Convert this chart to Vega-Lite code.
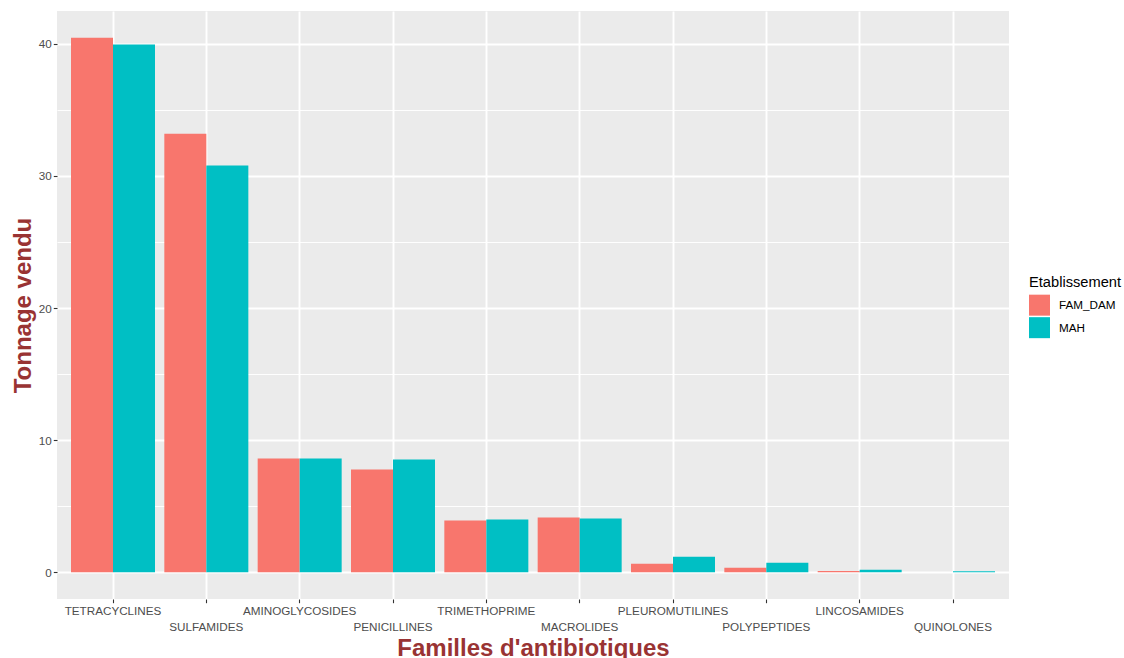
{
  "$schema": "https://vega.github.io/schema/vega-lite/v6.json",
  "autosize": {"type": "none"},
  "padding": {"left": 57, "top": 11, "right": 115, "bottom": 59},
  "width": 952,
  "height": 588,
  "background": "white",
  "data": {
    "values": [
      {"famille": "TETRACYCLINES", "etab": "FAM_DAM", "tonnage": 40.46},
      {"famille": "TETRACYCLINES", "etab": "MAH", "tonnage": 39.95},
      {"famille": "SULFAMIDES", "etab": "FAM_DAM", "tonnage": 33.2},
      {"famille": "SULFAMIDES", "etab": "MAH", "tonnage": 30.79},
      {"famille": "AMINOGLYCOSIDES", "etab": "FAM_DAM", "tonnage": 8.61},
      {"famille": "AMINOGLYCOSIDES", "etab": "MAH", "tonnage": 8.61},
      {"famille": "PENICILLINES", "etab": "FAM_DAM", "tonnage": 7.77},
      {"famille": "PENICILLINES", "etab": "MAH", "tonnage": 8.53},
      {"famille": "TRIMETHOPRIME", "etab": "FAM_DAM", "tonnage": 3.91},
      {"famille": "TRIMETHOPRIME", "etab": "MAH", "tonnage": 3.99},
      {"famille": "MACROLIDES", "etab": "FAM_DAM", "tonnage": 4.14},
      {"famille": "MACROLIDES", "etab": "MAH", "tonnage": 4.07},
      {"famille": "PLEUROMUTILINES", "etab": "FAM_DAM", "tonnage": 0.64},
      {"famille": "PLEUROMUTILINES", "etab": "MAH", "tonnage": 1.17},
      {"famille": "POLYPEPTIDES", "etab": "FAM_DAM", "tonnage": 0.34},
      {"famille": "POLYPEPTIDES", "etab": "MAH", "tonnage": 0.72},
      {"famille": "LINCOSAMIDES", "etab": "FAM_DAM", "tonnage": 0.1},
      {"famille": "LINCOSAMIDES", "etab": "MAH", "tonnage": 0.19},
      {"famille": "QUINOLONES", "etab": "FAM_DAM", "tonnage": 0.01},
      {"famille": "QUINOLONES", "etab": "MAH", "tonnage": 0.08}
    ]
  },
  "mark": {"type": "bar"},
  "encoding": {
    "x": {
      "field": "famille",
      "type": "nominal",
      "sort": null,
      "scale": {"paddingInner": 0.1, "paddingOuter": 0.15},
      "axis": {
        "title": "Familles d'antibiotiques",
        "titleFont": "Liberation Sans",
        "titleFontSize": 24,
        "titleFontWeight": "bold",
        "titleColor": "#993333",
        "titleX": 476,
        "titleY": 56,
        "titleBaseline": "alphabetic",
        "titleAnchor": null,
        "titleAlign": "center",
        "labelAngle": 0,
        "labelFont": "Liberation Sans",
        "labelFontSize": 11.7,
        "labelColor": "#4D4D4D",
        "labelPadding": 3,
        "labelOverlap": false,
        "labelBaseline": "top",
        "labelLineHeight": 16,
        "labelExpr": "indexof(['SULFAMIDES','PENICILLINES','MACROLIDES','POLYPEPTIDES','QUINOLONES'], datum.value) >= 0 ? [' ', datum.label] : datum.label",
        "bandPosition": 0.5,
        "domain": false,
        "ticks": true,
        "tickColor": "#333333",
        "tickWidth": 1.1,
        "tickSize": 3.7,
        "grid": true,
        "gridColor": "white",
        "gridWidth": 1.9
      }
    },
    "xOffset": {
      "field": "etab",
      "type": "nominal",
      "scale": {"paddingInner": 0, "paddingOuter": 0}
    },
    "y": {
      "field": "tonnage",
      "type": "quantitative",
      "scale": {"domain": [-2.023, 42.483], "nice": false, "zero": false},
      "axis": {
        "title": "Tonnage vendu",
        "titleFont": "Liberation Sans",
        "titleFontSize": 24,
        "titleFontWeight": "bold",
        "titleColor": "#993333",
        "titleAngle": -90,
        "titleX": -27,
        "titleY": 294,
        "titleBaseline": "alphabetic",
        "titleAlign": "center",
        "titleAnchor": null,
        "values": [0, 5, 10, 15, 20, 25, 30, 35, 40],
        "labelExpr": "datum.value % 10 === 0 ? datum.label : ''",
        "labelFont": "Liberation Sans",
        "labelFontSize": 11.7,
        "labelColor": "#4D4D4D",
        "labelPadding": 2,
        "domain": false,
        "tickColor": "#333333",
        "tickWidth": 1.1,
        "tickSize": 3.7,
        "tickOpacity": {"condition": {"test": "datum.value % 10 === 0", "value": 1}, "value": 0},
        "grid": true,
        "gridColor": "white",
        "gridWidth": {"condition": {"test": "datum.value % 10 === 0", "value": 1.9}, "value": 0.95}
      }
    },
    "y2": {"datum": 0},
    "color": {
      "field": "etab",
      "type": "nominal",
      "scale": {"domain": ["FAM_DAM", "MAH"], "range": ["#F8766D", "#00BFC4"]},
      "legend": {
        "title": "Etablissement",
        "orient": "none",
        "legendX": 972,
        "legendY": 264,
        "padding": 0,
        "titleFont": "Liberation Sans",
        "titleFontSize": 14.67,
        "titleFontWeight": "normal",
        "titleColor": "black",
        "titlePadding": 5,
        "symbolType": "square",
        "symbolSize": 441,
        "symbolStrokeWidth": 0,
        "symbolOpacity": 1,
        "rowPadding": 1.5,
        "labelFont": "Liberation Sans",
        "labelFontSize": 11.7,
        "labelColor": "black",
        "labelOffset": 9
      }
    }
  },
  "config": {
    "view": {"fill": "#EBEBEB", "stroke": null},
    "bar": {"stroke": null}
  }
}
